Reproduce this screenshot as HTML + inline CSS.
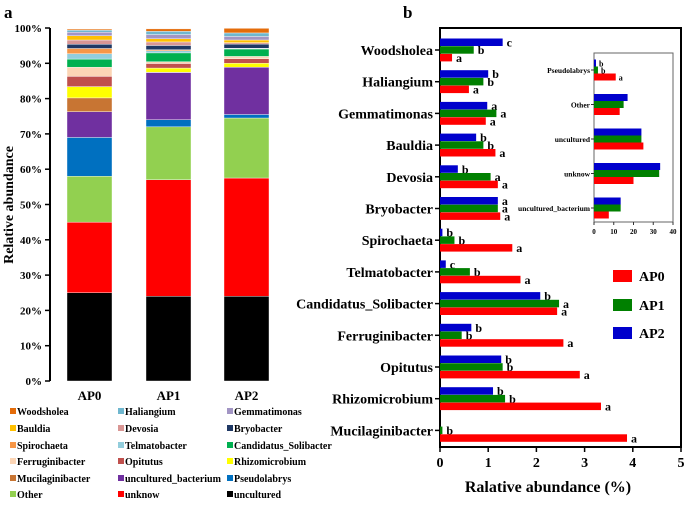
<!DOCTYPE html>
<html><head><meta charset="utf-8"><style>
body{margin:0;background:#fff;}
svg{display:block;font-family:"Liberation Serif",serif;font-weight:bold;}
</style></head><body>
<svg id="c" width="685" height="505" viewBox="0 0 685 505" xmlns="http://www.w3.org/2000/svg"></svg>
<script>
const NS="http://www.w3.org/2000/svg";
const svg=document.getElementById('c');
function mk(tag,attrs,parent,text){const e=document.createElementNS(NS,tag);for(const k in attrs)e.setAttribute(k,attrs[k]);if(text!==undefined)e.textContent=text;(parent||svg).appendChild(e);return e;}

// ---- Panel a data (stack order bottom->top) ----
const taxa=["uncultured","unknow","Other","Pseudolabrys","uncultured_bacterium","Mucilaginibacter","Rhizomicrobium","Opitutus","Ferruginibacter","Candidatus_Solibacter","Telmatobacter","Spirochaeta","Bryobacter","Devosia","Bauldia","Gemmatimonas","Haliangium","Woodsholea"];
const taxaColors=["#000000","#ff0000","#92d050","#0070c0","#7030a0","#c87533","#ffff00","#c0504d","#fcd5b5","#00b050","#92cddc","#f79646","#1f3864","#d99694","#ffc000","#a295c4","#6fb7cf","#e46c0a"];
const samples=["AP0","AP1","AP2"];
const ap0Stack=[25,20,13,11,7.3,3.9,3.2,2.9,2.6,2.3,1.5,1.5,1.2,1.2,1.2,1.0,0.6,0.3];
const ap1Stack=[24,33,15,2,13.4,0.05,1.2,1.3,0.5,2.5,0.6,0.3,1.2,1.0,0.9,1.2,0.9,0.7];
const ap2Stack=[24,33.5,17,1,13.4,0,1.1,1.3,0.65,2.1,0.15,0.05,1.2,0.4,0.75,1.0,1.0,1.3];
const yTicksA=["0%","10%","20%","30%","40%","50%","60%","70%","80%","90%","100%"];
const legendOrder=["Woodsholea","Haliangium","Gemmatimonas","Bauldia","Devosia","Bryobacter","Spirochaeta","Telmatobacter","Candidatus_Solibacter","Ferruginibacter","Opitutus","Rhizomicrobium","Mucilaginibacter","uncultured_bacterium","Pseudolabrys","Other","unknow","uncultured"];

// ---- Panel b data ----
const genera=["Woodsholea","Haliangium","Gemmatimonas","Bauldia","Devosia","Bryobacter","Spirochaeta","Telmatobacter","Candidatus_Solibacter","Ferruginibacter","Opitutus","Rhizomicrobium","Mucilaginibacter"];
const bAP0=[0.25,0.6,0.95,1.15,1.2,1.25,1.5,1.67,2.43,2.56,2.9,3.34,3.88];
const bAP1=[0.7,0.9,1.17,0.9,1.05,1.2,0.3,0.62,2.47,0.45,1.3,1.35,0.05];
const bAP2=[1.3,1.0,0.98,0.75,0.37,1.2,0.05,0.12,2.08,0.65,1.27,1.1,0];
const lAP0=["a","a","a","a","a","a","a","a","a","a","a","a","a"];
const lAP1=["b","b","a","b","a","a","b","b","a","b","b","b","b"];
const lAP2=["c","b","a","b","b","a","b","c","b","b","b","b",""];
const xTicksB=[0,1,2,3,4,5];
const insetCats=["Pseudolabrys","Other","uncultured","unknow","uncultured_bacterium"];
const iAP0=[11,13,25,20,7.5];
const iAP1=[2,15,24,33,13.5];
const iAP2=[1,17,24,33.5,13.5];
const iL0=["a","","","",""];
const iL1=["b","","","",""];
const iL2=["b","","","",""];
const xTicksI=[0,10,20,30,40];

// ===== Panel a =====
mk('text',{x:4,y:18,'font-size':17,},svg,'a');
const yA=v=>381-v*3.53;
const gA=mk('g',{});
mk('line',{x1:50,y1:yA(0),x2:50,y2:yA(100),stroke:'#000','stroke-width':2,},gA);
yTicksA.forEach((t,i)=>{const y=yA(i*10);
 mk('line',{x1:45,x2:50,y1:y,y2:y,stroke:'#000','stroke-width':1.5,},gA);
 mk('text',{x:42,y:y+4,'text-anchor':'end','font-size':11,},gA,t);});
mk('text',{transform:'translate(13,205) rotate(-90)','text-anchor':'middle','font-size':14,},gA,'Relative abundance');
const stacks=[ap0Stack,ap1Stack,ap2Stack];
const barX=[67,146,224];
stacks.forEach((s,si)=>{let cum=0;
 s.forEach((v,ti)=>{if(v<=0)return;
  const r=mk('rect',{x:barX[si],y:yA(cum+v),width:45,height:v*3.53,fill:taxaColors[ti],stroke:'#fff','stroke-width':0.4},gA);
  
  
  cum+=v;});
 mk('text',{x:barX[si]+22.5,y:400,'text-anchor':'middle','font-size':13,},gA,samples[si]);
});
// legend a
const legA=mk('g',{});
const colX=[10,118,227], rowY=[416,433,450,466,483,499];
legendOrder.forEach((n,i)=>{const c=i%3,r=Math.floor(i/3);const ci=taxa.indexOf(n);
 const g=mk('g',{},legA);
 
 
 mk('rect',{x:colX[c],y:rowY[r]-8,width:6,height:6,fill:taxaColors[ci]},g);
 mk('text',{x:colX[c]+7,y:rowY[r]-1,'font-size':10},g,n);});

// ===== Panel b =====
mk('text',{x:403,y:18,'font-size':17,},svg,'b');
const xB=v=>440+v*48.2;
const cy=i=>50+i*31.7;
const gB=mk('g',{});
mk('rect',{x:440,y:28,width:241,height:419,fill:'none',stroke:'#000','stroke-width':2,},gB);
xTicksB.forEach(t=>{const x=xB(t);
 mk('line',{x1:x,x2:x,y1:447,y2:452,stroke:'#000','stroke-width':1.5,},gB);
 mk('text',{x:x,y:467,'text-anchor':'middle','font-size':14,},gB,t);});
mk('text',{x:548,y:492,'text-anchor':'middle','font-size':16,},gB,'Ralative abundance (%)');
const sers=[[bAP2,'#0000cc',lAP2,'AP2'],[bAP1,'#008000',lAP1,'AP1'],[bAP0,'#ff0000',lAP0,'AP0']];
genera.forEach((g,i)=>{const c=cy(i);
 mk('line',{x1:435,x2:440,y1:c,y2:c,stroke:'#000','stroke-width':1.5,},gB);
 mk('text',{x:433,y:c+5,'text-anchor':'end','font-size':14,},gB,g);
 sers.forEach((s,k)=>{const y=c-11.5+k*7.7;const v=s[0][i];
  const r=mk('rect',{x:440,y:y,width:Math.max(0,xB(v)-440),height:7.5,fill:s[1]},gB);
  
  
  if(s[2][i])mk('text',{x:xB(v)+4,y:y+8,'font-size':12,},gB,s[2][i]);});
});
// legend b
const legB=mk('g',{});
[['AP0','#ff0000',277],['AP1','#008000',306],['AP2','#0000cc',334]].forEach(e=>{
 const g=mk('g',{},legB);
 
 
 mk('rect',{x:613,y:e[2]-7,width:19,height:12,fill:e[1]},g);
 mk('text',{x:639,y:e[2]+4,'font-size':14},g,e[0]);});

// inset
const xI=v=>594+v*1.975;
const iy=i=>70+i*34.5;
const gI=mk('g',{});
mk('rect',{x:594,y:53,width:79,height:169,fill:'#fff',stroke:'#666','stroke-width':1,},gI);
xTicksI.forEach(t=>{const x=xI(t);
 mk('line',{x1:x,x2:x,y1:222,y2:225,stroke:'#333',},gI);
 mk('text',{x:x,y:234,'text-anchor':'middle','font-size':7,},gI,t);});
const isers=[[iAP2,'#0000cc',iL2,'AP2'],[iAP1,'#008000',iL1,'AP1'],[iAP0,'#ff0000',iL0,'AP0']];
insetCats.forEach((n,i)=>{const c=iy(i);
 mk('line',{x1:591,x2:594,y1:c,y2:c,stroke:'#333',},gI);
 mk('text',{x:590,y:c+3,'text-anchor':'end','font-size':7.5,},gI,n);
 isers.forEach((s,k)=>{const y=c-10.5+k*7;const v=s[0][i];
  const r=mk('rect',{x:594,y:y,width:xI(v)-594,height:7,fill:s[1]},gI);
  
  
  if(s[2][i])mk('text',{x:xI(v)+3,y:y+7,'font-size':8,},gI,s[2][i]);});
});
</script>
</body></html>
